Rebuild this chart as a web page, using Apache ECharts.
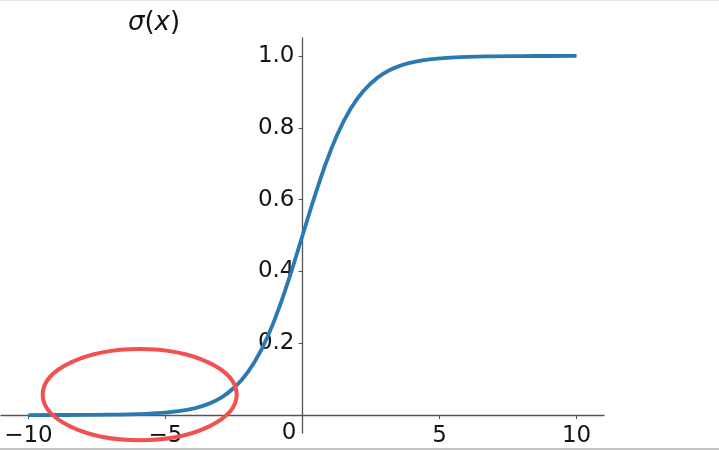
<!DOCTYPE html>
<html>
<head>
<meta charset="utf-8">
<script src="https://cdn.jsdelivr.net/npm/echarts@6/dist/echarts.min.js"></script>
<style>
  html, body { margin: 0; padding: 0; background: #ffffff; }
  #chart { width: 719px; height: 450px; }
</style>
</head>
<body>
<div id="chart"></div>
<script>
// ---- data ----
const xValues = [-10, -9, -8, -7, -6, -5, -4.5, -4, -3.5, -3, -2.5, -2, -1.5, -1, -0.5, 0,
                 0.5, 1, 1.5, 2, 2.5, 3, 3.5, 4, 4.5, 5, 6, 7, 8, 9, 10];
const sigmaValues = [0.0000, 0.0001, 0.0003, 0.0009, 0.0025, 0.0067, 0.011, 0.018, 0.029, 0.047, 0.076, 0.119, 0.182, 0.269, 0.378, 0.500,
                     0.622, 0.731, 0.818, 0.881, 0.924, 0.953, 0.971, 0.982, 0.989, 0.993, 0.9975, 0.9991, 0.9997, 0.9999, 1.0000];
const xTicks = [-10, -5, 0, 5, 10];
const yTicks = [0.2, 0.4, 0.6, 0.8, 1.0];
const xRange = [-11, 11];
const yRange = [-0.05, 1.05];
// annotation ellipse (data units): center x, center y, half-width, half-height
const ellipseCenter = [-5.94, 0.057];
const ellipseRadius = [3.54, 0.127];

const font = 'DejaVu Sans';
const chart = echarts.init(document.getElementById('chart'), null, { renderer: 'canvas' });

const seriesData = xValues.map((x, i) => [x, sigmaValues[i]]);
const axisColor = '#555555';

function buildOption(xOffset, yOffset) {
  return {
    backgroundColor: '#ffffff',
    animation: false,
    title: {
      text: '{i|σ}{n|(}{i|x}{n|)}',
      left: 123,
      top: 5,
      textStyle: {
        fontWeight: 'normal',
        rich: {
          i: { fontFamily: font, fontSize: 26, fontStyle: 'italic', fontWeight: 'normal', color: '#111111' },
          n: { fontFamily: font, fontSize: 26, fontWeight: 'normal', color: '#111111' }
        }
      }
    },
    grid: { left: 1, right: 115, top: 38, bottom: 17, containLabel: false, outerBoundsMode: 'none' },
    xAxis: {
      type: 'value',
      position: 'bottom',
      offset: xOffset,
      min: xRange[0],
      max: xRange[1],
      splitLine: { show: false },
      axisLine: { show: true, onZero: false, lineStyle: { color: axisColor, width: 1.3 } },
      axisTick: { show: true, customValues: xTicks, length: 4, lineStyle: { color: axisColor, width: 1 } },
      axisLabel: {
        customValues: xTicks,
        margin: 9,
        fontFamily: font,
        fontSize: 23,
        color: '#151515',
        formatter: function (v) {
          if (v === 0) return '{z|0}';
          return String(v).replace('-', '\u2212');
        },
        rich: {
          z: { fontFamily: font, fontSize: 23, color: '#151515', padding: [0, 27, 0, 0], lineHeight: 17 }
        }
      }
    },
    yAxis: {
      type: 'value',
      position: 'left',
      offset: yOffset,
      min: yRange[0],
      max: yRange[1],
      splitLine: { show: false },
      axisLine: { show: true, onZero: false, lineStyle: { color: axisColor, width: 1.3 } },
      axisTick: { show: true, customValues: yTicks, length: 4, lineStyle: { color: axisColor, width: 1 } },
      axisLabel: {
        customValues: yTicks,
        margin: 8,
        fontFamily: font,
        fontSize: 23,
        color: '#151515',
        formatter: function (v) { return Number(v).toFixed(1); }
      }
    },
    series: [{
      type: 'line',
      data: seriesData,
      showSymbol: false,
      smooth: 0.5,
      lineStyle: { color: '#2a79b0', width: 3.8 },
      z: 3
    }]
  };
}

chart.setOption(buildOption(0, 0));
// move each axis onto the other axis's zero, using the library's own scales
const origin = chart.convertToPixel({ gridIndex: 0 }, [0, 0]);
const corner = chart.convertToPixel({ gridIndex: 0 }, [xRange[0], yRange[0]]);
const yOffset = -(origin[0] - corner[0]);
const xOffset = -(corner[1] - origin[1]);
chart.setOption(buildOption(xOffset, yOffset));

const c = chart.convertToPixel({ gridIndex: 0 }, ellipseCenter);
const e = chart.convertToPixel({ gridIndex: 0 }, [ellipseCenter[0] + ellipseRadius[0], ellipseCenter[1] + ellipseRadius[1]]);

chart.setOption({
  graphic: [
    { id: 'topRule', type: 'rect', left: 0, top: 0, shape: { width: 719, height: 1 }, style: { fill: '#e6e6e6' }, silent: true },
    { id: 'bottomRule', type: 'rect', left: 0, top: 448, shape: { width: 719, height: 2 }, style: { fill: '#c4c4c4' }, silent: true },
    {
      id: 'ring', type: 'ellipse', z: 100,
      shape: { cx: c[0], cy: c[1], rx: Math.abs(e[0] - c[0]), ry: Math.abs(c[1] - e[1]) },
      style: { fill: 'none', stroke: '#f05252', lineWidth: 4 },
      silent: true
    }
  ]
});
</script>
</body>
</html>
